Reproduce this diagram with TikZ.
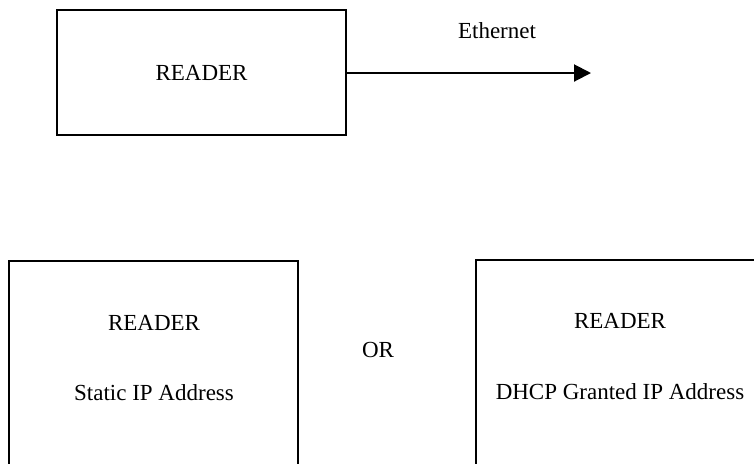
\documentclass[tikz,border=0pt]{standalone}
\usepackage{fontspec}
\setmainfont{Liberation Serif}
\usetikzlibrary{positioning}
\usetikzlibrary{arrows.meta}

\begin{document}
\begin{tikzpicture}[
        x=0.5pt, y=-0.5pt,
        >={Triangle[length=8.5pt,width=8.5pt]},
        font=\fontsize{11.5}{14}\selectfont,
        readerbox/.style={rectangle, draw=black, line width=1pt, minimum width=144.5pt},
        boxtext/.style={inner sep=0pt}
    ]

        \clip (0,0) rectangle (754,463);

        \node [readerbox, minimum height=62.5pt] (Reader) at (201.5,72.5) {READER};
        \coordinate (EthEnd) at (591,73);
        \node [boxtext] (EthLabel) at (497,31) {Ethernet};
        \draw [->, line width=1pt] (Reader.east |- EthEnd) -- (EthEnd);

        \node [readerbox, minimum height=150pt] (Static) at (153.5,411) {};
        \node [boxtext] (StaticName) at (154,323) {READER};
        \node [boxtext] (StaticIP) at (154,393) {Static IP Address};

        \node [boxtext] (Or) at (378,350) {OR};

        \node [readerbox, minimum width=150pt, minimum height=150pt] (Dhcp) at (626,410) {};
        \node [boxtext] (DhcpName) at (620,321) {READER};
        \node [boxtext] (DhcpIP) at (620,392) {DHCP Granted IP Address};

\end{tikzpicture}
\end{document}
